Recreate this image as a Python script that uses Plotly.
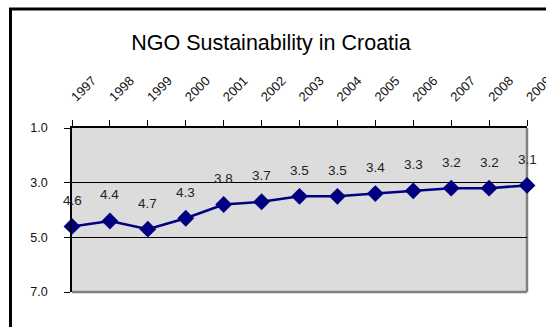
import plotly.graph_objects as go

# NGO sustainability index scores for Croatia (lower is better)
years = [1997, 1998, 1999, 2000, 2001, 2002, 2003, 2004, 2005, 2006, 2007, 2008, 2009]
scores = [4.6, 4.4, 4.7, 4.3, 3.8, 3.7, 3.5, 3.5, 3.4, 3.3, 3.2, 3.2, 3.1]
y_ticks = [1.0, 3.0, 5.0, 7.0]
y_tick_labels = ["1.0", "3.0", "5.0", "7.0"]

W, H = 546, 327
L, R, T, B = 72, 19, 128, 35
pw, ph = W - L - R, H - T - B

FONT = "Liberation Sans, Arial, sans-serif"
NAVY = "#000080"

fig = go.Figure()
fig.add_trace(go.Scatter(
    x=years, y=scores, mode="lines+markers",
    line=dict(color=NAVY, width=2.5),
    marker=dict(symbol="diamond", size=13, color=NAVY),
    cliponaxis=False, hoverinfo="x+y", showlegend=False,
))

# value labels above each point
annotations = [
    dict(x=yr, y=v, text=f"{v:.1f}", showarrow=False, yshift=26,
         font=dict(family=FONT, size=13.5, color="#222222"))
    for yr, v in zip(years, scores)
]


def px_to_paper_x(px):
    return (px - L) / pw


def px_to_paper_y(py):
    return (H - B - py) / ph


shapes = [
    # plot-area frame on the right and bottom
    dict(type="line", xref="paper", yref="paper", x0=1, x1=1, y0=0, y1=1,
         line=dict(color="#808080", width=2.5), layer="between"),
    dict(type="line", xref="paper", yref="paper", x0=0, x1=1, y0=0, y1=0,
         line=dict(color="#808080", width=2.5), layer="between"),
    # outer chart frame
    dict(type="rect", xref="paper", yref="paper",
         x0=px_to_paper_x(10.5), x1=px_to_paper_x(570),
         y0=px_to_paper_y(350), y1=px_to_paper_y(9),
         line=dict(color="black", width=3), fillcolor="rgba(0,0,0,0)"),
]

fig.update_layout(
    width=W, height=H,
    margin=dict(l=L, r=R, t=T, b=B, autoexpand=False),
    paper_bgcolor="white", plot_bgcolor="#DCDCDC",
    font=dict(family=FONT, size=12.5, color="#111111"),
    title=dict(text="NGO Sustainability in Croatia",
               font=dict(family=FONT, size=21.5, color="black"),
               xref="container", yref="container",
               x=271 / W, xanchor="center", y=1 - 42 / H, yanchor="middle"),
    xaxis=dict(
        side="top", range=[1997, 2009], tickmode="array", tickvals=years,
        ticktext=[str(y) for y in years], tickangle=-45,
        ticks="outside", ticklen=6, tickcolor="black", tickwidth=1,
        showline=True, linecolor="black", linewidth=1.5,
        showgrid=False, zeroline=False, ticklabelstandoff=11,
        ticklabeloverflow="allow",
        tickfont=dict(family=FONT, size=13, color="#111111"),
    ),
    yaxis=dict(
        range=[7, 1], tickmode="array", tickvals=y_ticks, ticktext=y_tick_labels,
        ticks="outside", ticklen=6, tickcolor="black", tickwidth=1,
        showline=True, linecolor="black", linewidth=1.5,
        showgrid=True, gridcolor="black", gridwidth=1, zeroline=False,
        ticklabelstandoff=14,
        tickfont=dict(family=FONT, size=12.5, color="#111111"),
    ),
    annotations=annotations,
    shapes=shapes,
)

fig.write_html("out.html")
